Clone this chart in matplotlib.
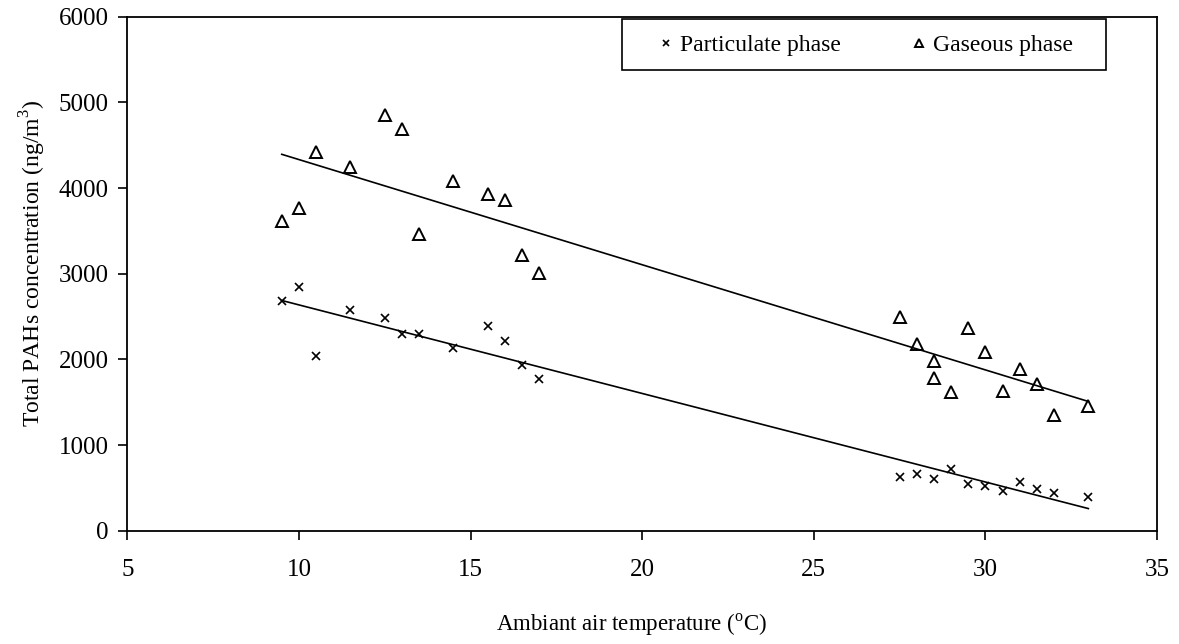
import numpy as np
import matplotlib
matplotlib.use("Agg")
import matplotlib.pyplot as plt
from matplotlib.patches import Rectangle

plt.rcParams['font.family'] = ['Liberation Serif', 'DejaVu Serif']
plt.rcParams['mathtext.fontset'] = 'custom'
plt.rcParams['mathtext.rm'] = 'Liberation Serif'

# Particulate phase
part_x = [9.5, 10, 10.5, 11.5, 12.5, 13, 13.5, 14.5, 15.5, 16, 16.5, 17,
          27.5, 28, 28.5, 29, 29.5, 30, 30.5, 31, 31.5, 32, 33]
part_y = [2680, 2840, 2035, 2580, 2485, 2300, 2300, 2130, 2390, 2220, 1940, 1770,
          623, 662, 600, 717, 545, 525, 467, 568, 487, 436, 397]

# Gaseous phase
gas_x = [9.5, 10, 10.5, 11.5, 12.5, 13, 13.5, 14.5, 15.5, 16, 16.5, 17,
         27.5, 28, 28.5, 28.5, 29, 29.5, 30, 30.5, 31, 31.5, 32, 33]
gas_y = [3612, 3767, 4420, 4249, 4852, 4685, 3463, 4085, 3934, 3860, 3222, 3012,
         2498, 2183, 1981, 1786, 1615, 2370, 2089, 1634, 1884, 1716, 1354, 1452]

x_ticks = [5, 10, 15, 20, 25, 30, 35]
y_ticks = [0, 1000, 2000, 3000, 4000, 5000, 6000]

W, H = 1179, 644
fig = plt.figure(figsize=(W/100, H/100), dpi=100)
ax = fig.add_axes([127.3/W, 1-530.7/H, (1157-127.3)/W, (530.7-16.7)/H])

ax.plot(part_x, part_y, linestyle='none', marker='x', color='black',
        markersize=6, markeredgewidth=1.2, label='Particulate phase')
ax.plot(gas_x, gas_y, linestyle='none', marker='^', color='black',
        markerfacecolor='none', markersize=8, markeredgewidth=1.4, label='Gaseous phase')

for xs, ys in ((part_x, part_y), (gas_x, gas_y)):
    xs = np.asarray(xs, float); ys = np.asarray(ys, float)
    k, b = np.polyfit(xs, ys, 1)
    xl = np.array([xs.min(), xs.max()])
    ax.plot(xl, k*xl + b, color='black', linewidth=1.2)

ax.set_xlim(5, 35)
ax.set_ylim(0, 6000)
ax.set_xticks(x_ticks)
ax.set_yticks(y_ticks)
ax.tick_params(axis='both', direction='out', length=6.5, width=1.2, labelsize=18,
               top=False, right=False)
ax.tick_params(axis='x', pad=14)
ax.tick_params(axis='y', pad=7)
for s in ax.spines.values():
    s.set_linewidth(1.3)
    s.set_color('black')

ax.set_xlabel(r'Ambiant air temperature ($^{\rm o}$C)', fontsize=16.5)
ax.xaxis.set_label_coords(0.490, -0.158)
ax.set_ylabel(r'Total PAHs concentration (ng/m$^{3}$)', fontsize=17)
ax.yaxis.set_label_coords(-0.077, 0.52)

leg = fig.legend(*ax.get_legend_handles_labels(), loc='center',
                 bbox_to_anchor=(866/W, 1-45/H),
                 ncol=2, fontsize=17, frameon=False,
                 handlelength=0.6, handletextpad=0.3, columnspacing=3.0,
                 markerscale=0.75, borderaxespad=0, borderpad=0)
fig.patches.append(Rectangle((622/W, 1-70/H), (1106-622)/W, 51/H,
                             transform=fig.transFigure, facecolor='white',
                             edgecolor='black', linewidth=1.2, zorder=5))
leg.set_zorder(6)

fig.savefig('out.png', dpi=100)
